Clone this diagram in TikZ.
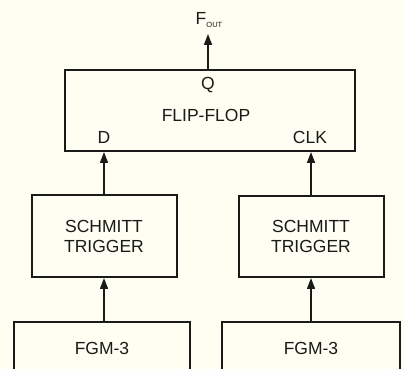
\documentclass[tikz,border=0pt]{standalone}
\usepackage{fontspec}
\setmainfont{Liberation Sans}
\usetikzlibrary{positioning,arrows.meta}
\definecolor{paper}{HTML}{FEFEF3}
\definecolor{ink}{HTML}{1A1A18}

\begin{document}
\begin{tikzpicture}[
  x=1pt, y=1pt,
  % Node styles
  block/.style={
    draw=ink,
    rectangle,
    line width=2pt,
    inner sep=0pt,
    text=ink,
    font=\fontsize{17.5}{20}\selectfont,
    align=center,
  },
  pin/.style={
    text=ink,
    inner sep=0pt,
    font=\fontsize{17.5}{20}\selectfont,
  },
  % Edge style
  signal/.style={
    draw=ink,
    line width=1.6pt,
    -{Triangle[length=11pt,width=8pt]},
  },
]

  % Frame (picture size in px) and clip of the cut-off bottom boxes
  \fill[paper] (0,0) rectangle (405,369);
  \clip (0,0) rectangle (405,369);

  % Column positions
  \pgfmathsetmacro{\colL}{104}
  \pgfmathsetmacro{\colR}{311}

  % Flip-flop
  \node[block, minimum width=290pt, minimum height=81pt] (ff) at (210,258.5) {};
  \node[pin] (ffQ) at (208,284) {Q};
  \node[pin] (ffname) at (206,254) {FLIP-FLOP};
  \node[pin] (ffD) at (\colL,232) {D};
  \node[pin] (ffCLK) at (310,232) {CLK};

  % Schmitt triggers
  \node[block, minimum width=145pt, minimum height=82pt] (stL) at (\colL,133) {SCHMITT\\TRIGGER};
  \node[block, minimum width=145pt, minimum height=81pt] (stR) at (\colR,132.5) {SCHMITT\\TRIGGER};

  % FGM-3 sources (bottom edge falls outside the frame)
  \node[block, minimum width=176pt, minimum height=52pt] (fgmL) at (102,21) {FGM-3};
  \node[block, minimum width=178pt, minimum height=52pt] (fgmR) at (\colR,20.5) {FGM-3};

  % Output
  \coordinate (fout) at (208,335);
  \node[pin, above=6pt of fout, xshift=1pt] (foutlabel) {F\raisebox{-0.4ex}{\fontsize{7.5}{8}\selectfont OUT}};

  % Edges
  \draw[signal] (ff.north -| fout) -- (fout);
  \draw[signal] (stL.north) -- (stL.north |- ff.south);
  \draw[signal] (stR.north) -- (stR.north |- ff.south);
  \draw[signal] (fgmL.north -| stL.south) -- (stL.south);
  \draw[signal] (fgmR.north -| stR.south) -- (stR.south);

\end{tikzpicture}
\end{document}
